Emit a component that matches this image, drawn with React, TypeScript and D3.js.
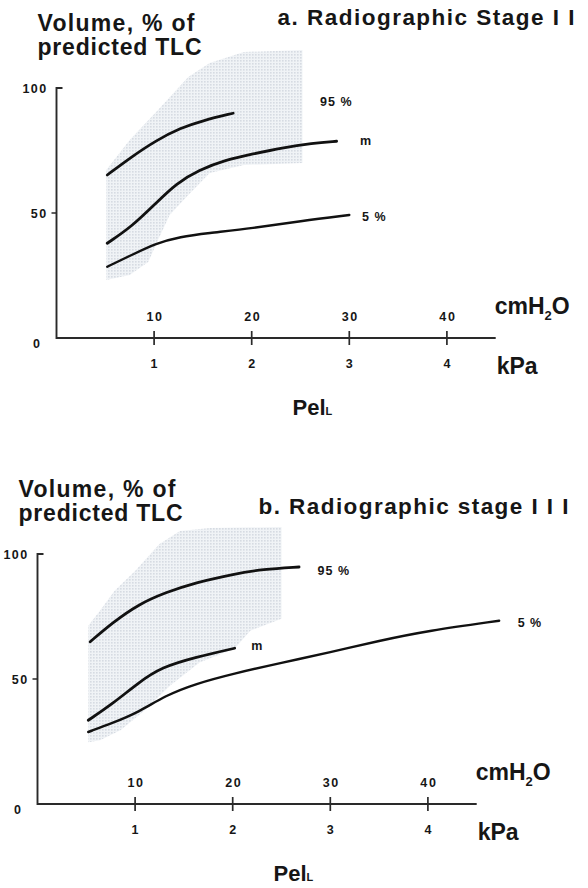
import React from 'react';
import * as d3 from 'd3';

// tick labels
const kpaTicks = [1, 2, 3, 4];
const cmTicks = ['10', '20', '30', '40'];
const yTicks = [50, 100];

// panel a: Radiographic Stage II  (x in kPa, y in % predicted TLC)
const aP95X = [0.52, 0.77, 1.02, 1.27, 1.5, 1.81];
const aP95Y = [65.2, 72.5, 79, 84, 87, 89.9];
const aMedX = [0.52, 0.77, 1.02, 1.23, 1.46, 1.73, 2.01, 2.31, 2.62, 2.87];
const aMedY = [37.9, 44.5, 54, 61.9, 67.2, 71.2, 73.6, 76.1, 77.9, 78.7];
const aP5X = [0.52, 0.77, 1.02, 1.27, 1.54, 2.01, 2.5, 3.0];
const aP5Y = [28.5, 33.2, 37.9, 40.5, 41.9, 43.9, 46.8, 49.2];
const aBandX = [0.51, 0.75, 1.04, 1.35, 1.57, 1.92, 2.52, 2.52, 1.92, 1.57, 1.35, 1.16, 1.04, 0.94, 0.75, 0.51];
const aBandY = [67.2, 79.2, 91.2, 104.4, 110, 114.4, 115.2, 70, 69.2, 66, 57.2, 49.2, 39.2, 30.4, 25.2, 23.2];

// panel b: Radiographic stage III
const bP95X = [0.54, 0.77, 1.04, 1.31, 1.62, 2.0, 2.31, 2.68];
const bP95Y = [64.9, 72.6, 80, 84.6, 88.6, 91.9, 93.9, 94.8];
const bMedX = [0.52, 0.77, 1.04, 1.27, 1.62, 2.02];
const bMedY = [33.5, 40.1, 48.7, 54.7, 58.7, 62.3];
const bP5X = [0.52, 0.77, 1.04, 1.31, 1.62, 2.0, 2.5, 3.0, 3.5, 4.0, 4.73];
const bP5Y = [28.8, 32.4, 36.8, 43.4, 48.1, 52.1, 56.5, 60.7, 65.3, 69.3, 73.3];
const bBandX = [0.52, 0.64, 0.79, 1.0, 1.25, 1.46, 1.77, 2.5, 2.5, 2.18, 2.02, 1.66, 1.36, 1.1, 0.85, 0.64, 0.52];
const bBandY = [71.3, 77.3, 85.3, 93.2, 104, 109.2, 110.4, 110.8, 74.1, 69.3, 62.2, 56.6, 47.4, 37.5, 29.5, 25.5, 24.7];

const FONT = '"Liberation Sans", Arial, Helvetica, sans-serif';
const INK = '#161616';

const zip = (xs: number[], ys: number[]) => xs.map((x, i) => [x, ys[i]] as [number, number]);

type Curve = { xs: number[]; ys: number[]; label: string; lx: number; ly: number; width: number };

const Panel = ({ x0, y0, title, titleLen, titleY, curves, band }: any) => {
  const x = d3.scaleLinear().domain([0, 4.5]).range([x0, x0 + 4.5 * 97.6]);
  const y = d3.scaleLinear().domain([0, 100]).range([y0, y0 - 250]);
  const line = d3
    .line<[number, number]>()
    .x((d) => x(d[0]))
    .y((d) => y(d[1]))
    .curve(d3.curveBasis);
  const area = d3.line<[number, number]>().x((d) => x(d[0])).y((d) => y(d[1])).curve(d3.curveLinearClosed);
  const xEnd = x(4.5);

  return (
    <g fontFamily={FONT} fill={INK}>
      <path d={area(zip(band[0], band[1])) || ''} fill="url(#dots)" stroke="none" />

      {/* y title and panel title */}
      <text x={x0 - 19} y={y(100) - 57} fontSize={23} fontWeight="bold" textLength={157} lengthAdjust="spacing">
        Volume, % of
      </text>
      <text x={x0 - 19} y={y(100) - 33} fontSize={23} fontWeight="bold" textLength={164} lengthAdjust="spacing">
        predicted TLC
      </text>
      <text x={x0 + 221} y={titleY} fontSize={22.5} fontWeight="bold" textLength={titleLen} lengthAdjust="spacing">
        {title}
      </text>

      {/* axes */}
      <path
        d={`M${x0 + 6},${y(100)}H${x0}V${y0}H${xEnd}`}
        fill="none"
        stroke="#2a2a2a"
        strokeWidth={1.9}
      />
      {yTicks.map((t) => (
        <g key={t}>
          {t === 50 && <line x1={x0} x2={x0 - 5} y1={y(t)} y2={y(t)} stroke="#2a2a2a" strokeWidth={1.5} />}
          <text x={x0 - 9} y={y(t) + 4.5} fontSize={12.5} fontWeight="bold" textAnchor="end" letterSpacing={1.4}>
            {t}
          </text>
        </g>
      ))}
      <text x={x0 - 20} y={y0 + 10} fontSize={12.5} fontWeight="bold" textAnchor="middle">
        0
      </text>
      {kpaTicks.map((t, i) => (
        <g key={t}>
          <line x1={x(t)} x2={x(t)} y1={y0 - 7} y2={y0 + 7} stroke="#2a2a2a" strokeWidth={1.7} />
          <text x={x(t) + 1} y={y0 - 17} fontSize={12.5} fontWeight="bold" textAnchor="middle" letterSpacing={1.6}>
            {cmTicks[i]}
          </text>
          <text x={x(t)} y={y0 + 30} fontSize={12.5} fontWeight="bold" textAnchor="middle">
            {t}
          </text>
        </g>
      ))}
      <text x={xEnd - 1} y={y0 - 24} fontSize={23} fontWeight="bold">
        cmH<tspan fontSize={13} dy={6}>2</tspan>
        <tspan dy={-6}>O</tspan>
      </text>
      <text x={xEnd + 1} y={y0 + 36} fontSize={23} fontWeight="bold">
        kPa
      </text>
      <text x={x0 + 236} y={y0 + 77} fontSize={22} fontWeight="bold">
        Pel<tspan fontSize={11}>L</tspan>
      </text>

      {/* percentile curves */}
      {curves.map((c: Curve) => (
        <g key={c.label}>
          <path d={line(zip(c.xs, c.ys)) || ''} fill="none" stroke="#111" strokeWidth={c.width} strokeLinecap="round" />
          <text x={x(c.lx)} y={y(c.ly)} fontSize={12.5} fontWeight="bold" letterSpacing={1}>
            {c.label}
          </text>
        </g>
      ))}
    </g>
  );
};

export default function App() {
  return (
    <svg width={588} height={888} style={{ position: 'absolute', left: 0, top: 0, background: '#fff' }}>
      <defs>
        <pattern id="dots" width={3} height={3} patternUnits="userSpaceOnUse">
          <rect width={3} height={3} fill="#f0f3f6" />
          <rect width={1.6} height={1.6} fill="#d6dbe2" />
        </pattern>
      </defs>
      <rect width={588} height={888} fill="#fff" />
      <Panel
        x0={56.5}
        y0={338}
        title="a. Radiographic Stage I I"
        titleLen={297}
        titleY={25}
        band={[aBandX, aBandY]}
        curves={[
          { xs: aP95X, ys: aP95Y, label: '95 %', lx: 2.7, ly: 92.8, width: 2.8 },
          { xs: aMedX, ys: aMedY, label: 'm', lx: 3.11, ly: 77.2, width: 2.8 },
          { xs: aP5X, ys: aP5Y, label: '5 %', lx: 3.13, ly: 46.8, width: 2.4 },
        ]}
      />
      <Panel
        x0={37.5}
        y0={804}
        title="b. Radiographic stage I I I"
        titleLen={310}
        titleY={514}
        band={[bBandX, bBandY]}
        curves={[
          { xs: bP95X, ys: bP95Y, label: '95 %', lx: 2.87, ly: 91.6, width: 2.8 },
          { xs: bMedX, ys: bMedY, label: 'm', lx: 2.19, ly: 61.8, width: 2.8 },
          { xs: bP5X, ys: bP5Y, label: '5 %', lx: 4.92, ly: 70.9, width: 2.4 },
        ]}
      />
    </svg>
  );
}
